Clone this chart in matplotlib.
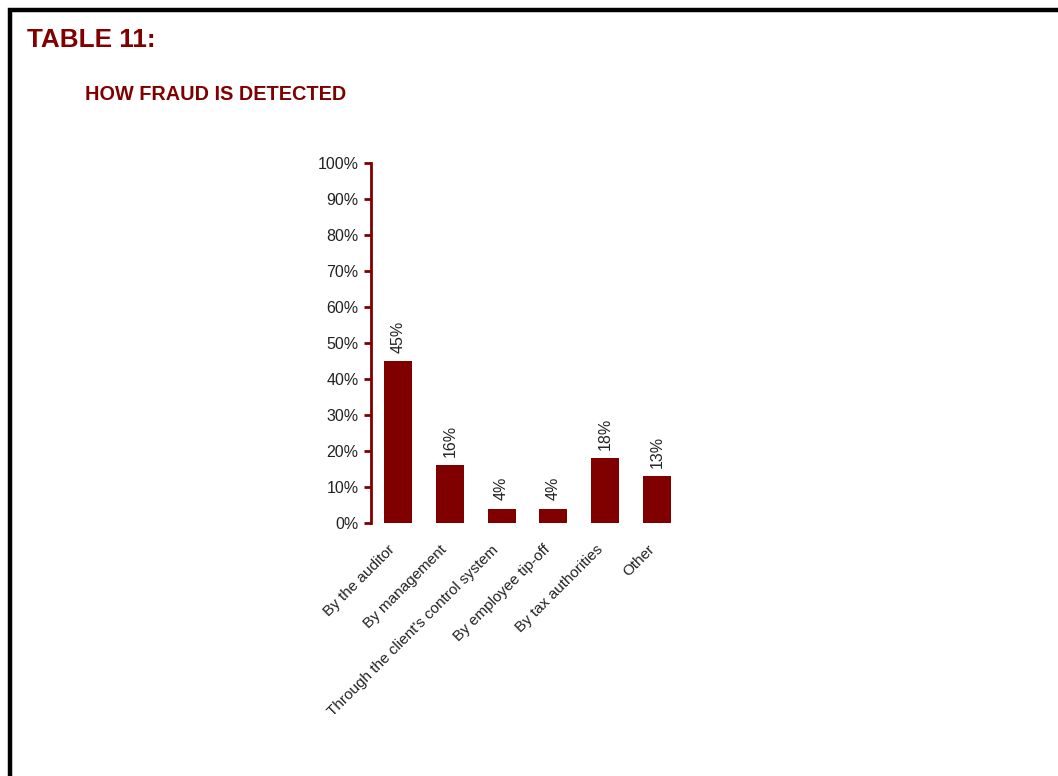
import matplotlib
matplotlib.use("Agg")
import matplotlib.pyplot as plt
from matplotlib.patches import Rectangle
from matplotlib.ticker import PercentFormatter

categories = [
    "By the auditor",
    "By management",
    "Through the client's control system",
    "By employee tip-off",
    "By tax authorities",
    "Other",
]
values = [45, 16, 4, 4, 18, 13]
y_ticks = [0, 10, 20, 30, 40, 50, 60, 70, 80, 90, 100]

maroon = "#800000"
text_color = "#222222"
body_font = ["Liberation Sans", "DejaVu Sans"]
title_font = ["Liberation Sans Narrow", "Liberation Sans", "DejaVu Sans"]

fig = plt.figure(figsize=(10.58, 7.76), dpi=100)
fig.patch.set_facecolor("white")

# frame lines along the top and left edge of the page
fig.add_artist(Rectangle((10 / 1058, -0.1), 1.2, 1.1 - 10 / 776,
                         transform=fig.transFigure, fill=False,
                         edgecolor="black", linewidth=3.2))

fig.text(27 / 1058, 1 - 40 / 776, "TABLE 11:", color=maroon, fontsize=18.8,
         fontweight="bold", family=title_font, va="center", ha="left")
fig.text(85 / 1058, 1 - 95 / 776, "HOW FRAUD IS DETECTED", color=maroon,
         fontsize=14.3, fontweight="bold", family=title_font,
         va="center", ha="left")

ax = fig.add_axes([371 / 1058, (776 - 523) / 776, (684 - 371) / 1058,
                   (523 - 163) / 776])
x = list(range(len(categories)))
ax.bar(x, values, width=0.54, color=maroon, zorder=2)

ax.set_xlim(-0.52, len(categories) - 0.48)
ax.set_ylim(0, 100)
ax.set_yticks(y_ticks)
ax.yaxis.set_major_formatter(PercentFormatter(decimals=0))
for spine in ("top", "right", "bottom"):
    ax.spines[spine].set_visible(False)
ax.spines["left"].set_color(maroon)
ax.spines["left"].set_linewidth(2)
ax.tick_params(axis="y", colors=maroon, length=5, width=2, pad=4,
               labelcolor=text_color, labelsize=11.5)
for lbl in ax.get_yticklabels():
    lbl.set_family(body_font)

ax.set_xticks(x)
ax.set_xticklabels(categories, rotation=45, ha="right", va="top",
                   fontsize=11, family=body_font, color=text_color)
ax.tick_params(axis="x", length=0, pad=14)

for xi, v in zip(x, values):
    ax.annotate(f"{v}%", (xi, v), xytext=(0, 6), textcoords="offset points",
                rotation=90, ha="center", va="bottom", fontsize=11.5,
                family=body_font, color=text_color)

fig.savefig("out.png", dpi=100, facecolor="white")
